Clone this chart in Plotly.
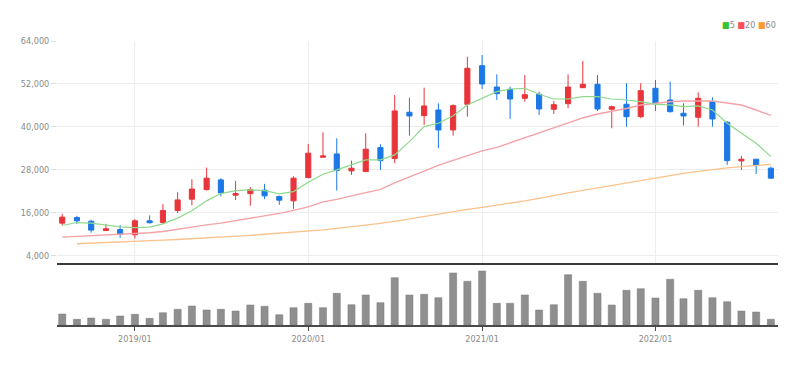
import plotly.graph_objects as go

months = ["2018-08-01","2018-09-01","2018-10-01","2018-11-01","2018-12-01",
          "2019-01-01","2019-02-01","2019-03-01","2019-04-01","2019-05-01","2019-06-01",
          "2019-07-01","2019-08-01","2019-09-01","2019-10-01","2019-11-01","2019-12-01",
          "2020-01-01","2020-02-01","2020-03-01","2020-04-01","2020-05-01","2020-06-01",
          "2020-07-01","2020-08-01","2020-09-01","2020-10-01","2020-11-01","2020-12-01",
          "2021-01-01","2021-02-01","2021-03-01","2021-04-01","2021-05-01","2021-06-01",
          "2021-07-01","2021-08-01","2021-09-01","2021-10-01","2021-11-01","2021-12-01",
          "2022-01-01","2022-02-01","2022-03-01","2022-04-01","2022-05-01","2022-06-01",
          "2022-07-01","2022-08-01","2022-09-01"]

open_ = [13050,14600,13600,11000,11250,9780,13700,13220,16570,19750,22440,25150,20875,21320,22270,
         20500,19280,25790,31490,32410,27670,27470,34180,31100,44070,43120,44710,39120,46300,57090,
         51130,50490,47980,49090,44900,46470,50940,51890,44900,46300,42840,50770,47500,43790,42670,
         47030,41270,30460,30930,28420]
high = [15650,15100,14000,12850,12490,14170,15200,18350,21700,25350,28600,25650,24850,23110,24030,
        20770,26180,35210,38480,36800,30540,38200,35130,48900,48150,50940,46580,46300,59600,60080,
        54680,51220,54490,49820,47220,54680,58400,54490,45910,52170,52170,53090,52620,46580,49650,
        48260,41640,31860,31000,28870]
low = [12500,12800,10400,10800,8950,8750,13000,12860,15850,18000,22160,20500,19500,17900,19760,
       18170,17050,25600,31300,22160,26550,27400,27940,29820,37530,40520,34010,37530,42840,50580,
       47500,42190,47030,43310,43590,45180,50900,44430,39600,40040,42390,44430,44000,40320,40040,
       40040,29340,27940,26830,25500]
close = [14730,13700,11100,11500,9870,13700,13150,16570,19550,22580,25630,21500,21320,22440,20680,
         19480,25630,32610,31860,27750,28420,33730,30540,44430,43030,45830,39120,45910,56360,51970,
         49260,47780,48980,44990,46190,51130,51890,44990,45630,42840,50100,46580,44230,43030,47980,
         42190,30540,30930,29150,25630]

ma5 = [12400,13220,13050,12490,12020,11820,11930,12860,14450,16490,19280,21320,22160,22360,22160,
       21240,21880,24510,26740,27940,29340,30740,30740,32135,35850,40040,40990,43115,46105,47977,
       49820,50575,50770,49095,47780,47780,48424,48424,47780,47500,47027,46300,46105,45630,45826,
       44708,40990,38200,35404,31660]
ma20 = [9140,9360,9531,9700,9867,10062,10342,10705,11404,12018,12577,13052,13695,14393,15092,
        15790,16628,17606,19003,19702,20680,21518,22496,24312,25988,27665,29201,30598,31995,33253,
        34230,35488,36885,38282,39539,40936,42473,43590,44289,45127,46105,46580,47027,47223,47223,
        47223,46664,46105,44708,43171]
ma60 = [None,7268,7408,7548,7743,7911,8107,8302,8470,8665,8889,9140,9364,9615,9923,
        10202,10537,10845,11180,11599,12018,12493,12996,13555,14253,14952,15650,16349,16908,17466,
        18025,18584,19283,19981,20819,21518,22216,22915,23753,24312,25010,25793,26407,26966,27525,
        28084,28503,28866,29201,29481]

volume = [1100,570,700,570,900,1070,670,1230,1570,1900,1500,1570,1400,2000,1870,1030,1730,2170,
          1730,3170,2030,3000,2230,4730,3000,3070,2730,5200,4370,5400,2170,2170,3000,1500,2030,
          5030,4370,3170,2000,3470,3630,2700,4570,2630,3470,2730,2330,1400,1300,570]

price_ticks = [4000, 16000, 28000, 40000, 52000, 64000]
x_ticks = ["2019-01-01", "2020-01-01", "2021-01-01", "2022-01-01"]
x_tick_labels = ["2019/01", "2020/01", "2021/01", "2022/01"]

FONT = "Liberation Sans Narrow, DejaVu Sans Condensed, Arial Narrow, Roboto, sans-serif"
RED = "#e8353b"
BLUE = "#1b78e6"

fig = go.Figure()

fig.add_trace(go.Scatter(x=months, y=ma60, mode="lines", line=dict(color="#fbc28c", width=1.4),
                         xaxis="x", yaxis="y", showlegend=False, hoverinfo="skip"))
fig.add_trace(go.Scatter(x=months, y=ma20, mode="lines", line=dict(color="#f5a2a7", width=1.4),
                         xaxis="x", yaxis="y", showlegend=False, hoverinfo="skip"))
fig.add_trace(go.Scatter(x=months, y=ma5, mode="lines", line=dict(color="#8ed98c", width=1.2),
                         xaxis="x", yaxis="y", showlegend=False, hoverinfo="skip"))

fig.add_trace(go.Candlestick(
    x=months, open=open_, high=high, low=low, close=close,
    increasing=dict(line=dict(color=RED, width=1), fillcolor=RED),
    decreasing=dict(line=dict(color=BLUE, width=1), fillcolor=BLUE),
    whiskerwidth=0, xaxis="x", yaxis="y", showlegend=False))

fig.add_trace(go.Bar(x=months, y=volume, marker=dict(color="#8f8f8f", line=dict(color="#7a7a7a", width=0.5)),
                     width=15 * 86400000, xaxis="x2", yaxis="y2", showlegend=False))

x_range = ["2018-07-21", "2022-09-16"]

fig.update_layout(
    width=809, height=365,
    margin=dict(l=57, r=31, t=41, b=40),
    paper_bgcolor="white", plot_bgcolor="white",
    font=dict(family=FONT, size=9, color="#8a8a8a"),
    boxgap=0.45,
    xaxis=dict(type="date", range=x_range, domain=[0, 1], anchor="y",
               tickvals=x_ticks, showticklabels=False, showgrid=True, gridcolor="#ededed",
               gridwidth=1, showline=True, linecolor="#3a3a3a", linewidth=2, ticks="",
               rangeslider=dict(visible=False), zeroline=False, fixedrange=True),
    yaxis=dict(domain=[0.2183, 1], range=[1900, 64000], tickvals=price_ticks, tickformat=",",
               showgrid=True, gridcolor="#ededed", gridwidth=1, zeroline=False,
               ticks="outside", ticklen=5, tickcolor="#dddddd", showline=False,
               tickfont=dict(size=9, color="#8a8a8a")),
    xaxis2=dict(type="date", range=x_range, domain=[0, 1], anchor="y2", matches="x",
                tickvals=x_ticks, ticktext=x_tick_labels, showgrid=False,
                showline=True, linecolor="#4a4a4a", linewidth=2,
                ticks="outside", ticklen=4, tickcolor="#4a4a4a", tickwidth=1,
                tickfont=dict(size=9, color="#8a8a8a"), zeroline=False),
    yaxis2=dict(domain=[0, 0.205], range=[0, 5820], showgrid=False, showticklabels=False,
                zeroline=False, showline=False, ticks=""),
    annotations=[dict(
        xref="paper", yref="paper", x=1.0, y=1.057, xanchor="right", yanchor="middle",
        showarrow=False, font=dict(size=9, color="#8a8a8a", family=FONT),
        text='<span style="color:#33c433">■</span>5 '
             '<span style="color:#ff4d5a">■</span>20 '
             '<span style="color:#ff9a33">■</span>60')],
)

fig.write_html("out.html", config={"displayModeBar": False},
               post_script="document.body.style.margin='0';document.body.style.overflow='hidden';")
